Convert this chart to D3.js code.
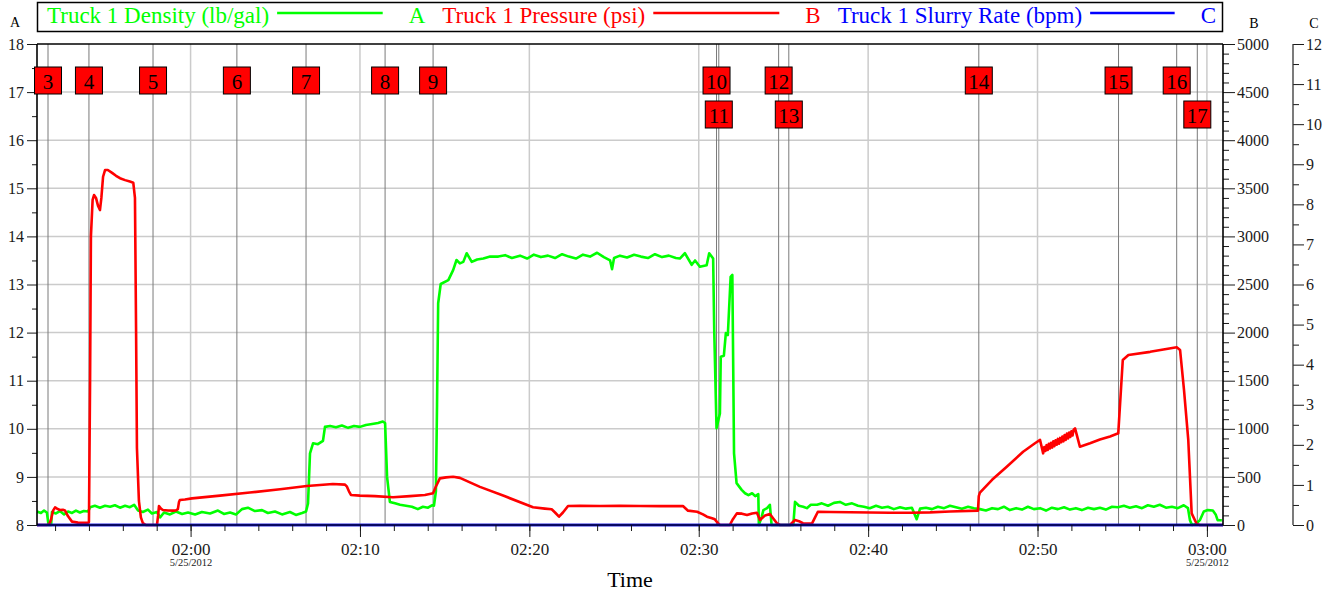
<!DOCTYPE html>
<html>
<head>
<meta charset="utf-8">
<script src="https://cdn.jsdelivr.net/npm/d3@7"></script>
<style>
body { margin: 0; background: #fff; }
svg text { font-family: "Liberation Serif", "Times New Roman", serif; }
</style>
</head>
<body>
<svg id="chart" width="1336" height="594"></svg>
<script>
// (DATA) job date and visible time window
var jobDate = "2012-05-25";
var timeRange = ["01:50:56", "03:00:57"];

// series names, axis letters and colours
var seriesNames = ["Truck 1 Density (lb/gal)", "Truck 1 Pressure (psi)", "Truck 1 Slurry Rate (bpm)"];
var seriesAxes = ["A", "B", "C"];
var seriesColors = ["#00ff00", "#ff0000", "#0000ff"];

// axis ranges
var densityDomain = [8, 18];
var pressureDomain = [0, 5000];
var slurryDomain = [0, 12];

// density (lb/gal), axis A
var densityTimes = [
    "01:50:56", "01:51:10", "01:51:21", "01:51:31", "01:51:37", "01:51:46", "01:51:49", "01:52:03", "01:52:17", "01:52:32",
    "01:52:46", "01:53:00", "01:53:14", "01:53:28", "01:53:42", "01:53:57", "01:54:04", "01:54:21", "01:54:39", "01:54:57",
    "01:55:15", "01:55:32", "01:55:50", "01:56:08", "01:56:25", "01:56:40", "01:56:54", "01:57:11", "01:57:29", "01:57:43",
    "01:58:01", "01:58:12", "01:58:26", "01:58:47", "01:59:08", "01:59:30", "01:59:51", "02:00:16", "02:00:40", "02:01:09",
    "02:01:37", "02:01:58", "02:02:20", "02:02:41", "02:03:02", "02:03:23", "02:03:48", "02:04:13", "02:04:34", "02:04:59",
    "02:05:24", "02:05:52", "02:06:13", "02:06:35", "02:06:49", "02:06:56", "02:07:03", "02:07:14", "02:07:31", "02:07:49",
    "02:07:56", "02:08:14", "02:08:35", "02:08:56", "02:09:18", "02:09:39", "02:10:00", "02:10:21", "02:10:43", "02:11:04",
    "02:11:21", "02:11:29", "02:11:36", "02:11:46", "02:12:04", "02:12:22", "02:12:43", "02:13:04", "02:13:25", "02:13:43",
    "02:14:01", "02:14:15", "02:14:22", "02:14:29", "02:14:33", "02:14:37", "02:14:46", "02:15:13", "02:15:30", "02:15:42",
    "02:15:54", "02:16:06", "02:16:18", "02:16:36", "02:16:55", "02:17:17", "02:17:41", "02:18:10", "02:18:34", "02:18:58",
    "02:19:27", "02:19:52", "02:20:16", "02:20:41", "02:21:06", "02:21:31", "02:21:56", "02:22:20", "02:22:45", "02:23:10",
    "02:23:35", "02:24:00", "02:24:24", "02:24:46", "02:24:53", "02:25:00", "02:25:21", "02:25:46", "02:26:11", "02:26:35",
    "02:27:00", "02:27:25", "02:27:50", "02:28:14", "02:28:39", "02:28:53", "02:29:11", "02:29:35", "02:29:47", "02:30:04",
    "02:30:28", "02:30:37", "02:30:51", "02:30:55", "02:31:03", "02:31:15", "02:31:18", "02:31:29", "02:31:36", "02:31:43",
    "02:31:53", "02:31:59", "02:32:05", "02:32:14", "02:32:32", "02:32:44", "02:32:56", "02:33:09", "02:33:20", "02:33:31",
    "02:33:33", "02:33:43", "02:33:49", "02:34:02", "02:34:12", "02:34:18", "02:35:35", "02:35:41", "02:35:55", "02:36:10",
    "02:36:23", "02:36:37", "02:36:59", "02:37:16", "02:37:38", "02:37:59", "02:38:20", "02:38:41", "02:39:03", "02:39:24",
    "02:39:45", "02:40:06", "02:40:28", "02:40:49", "02:41:10", "02:41:31", "02:41:53", "02:42:14", "02:42:35", "02:42:52",
    "02:43:04", "02:43:25", "02:43:46", "02:44:07", "02:44:29", "02:44:50", "02:45:11", "02:45:32", "02:45:54", "02:46:15",
    "02:46:36", "02:46:57", "02:47:19", "02:47:40", "02:48:01", "02:48:22", "02:48:44", "02:49:05", "02:49:26", "02:49:47",
    "02:50:09", "02:50:30", "02:50:51", "02:51:12", "02:51:34", "02:51:55", "02:52:16", "02:52:37", "02:52:59", "02:53:20",
    "02:53:41", "02:54:02", "02:54:24", "02:54:45", "02:55:06", "02:55:27", "02:55:49", "02:56:10", "02:56:31", "02:56:52",
    "02:57:13", "02:57:35", "02:57:56", "02:58:17", "02:58:38", "02:58:53", "02:59:00", "02:59:07", "02:59:21", "02:59:35",
    "02:59:49", "03:00:03", "03:00:21", "03:00:31", "03:00:38", "03:00:53"
];
var densityValues = [
    8.28, 8.25, 8.30, 8.26, 8.00, 8.00, 8.27, 8.24, 8.29, 8.22,
    8.28, 8.25, 8.30, 8.26, 8.29, 8.28, 8.37, 8.40, 8.36, 8.40,
    8.38, 8.41, 8.36, 8.40, 8.37, 8.42, 8.30, 8.27, 8.32, 8.24,
    8.27, 8.16, 8.26, 8.22, 8.28, 8.23, 8.26, 8.22, 8.27, 8.24,
    8.30, 8.23, 8.26, 8.22, 8.33, 8.36, 8.29, 8.31, 8.25, 8.28,
    8.22, 8.27, 8.21, 8.25, 8.28, 8.45, 9.49, 9.70, 9.68, 9.75,
    10.04, 10.06, 10.03, 10.07, 10.02, 10.06, 10.04, 10.08, 10.10, 10.12,
    10.15, 10.12, 9.00, 8.48, 8.45, 8.42, 8.40, 8.38, 8.33, 8.38,
    8.36, 8.41, 8.40, 8.70, 10.50, 12.61, 13.01, 13.09, 13.30, 13.51,
    13.44, 13.47, 13.65, 13.47, 13.52, 13.54, 13.58, 13.58, 13.61, 13.55,
    13.60, 13.54, 13.62, 13.57, 13.60, 13.55, 13.63, 13.58, 13.54, 13.62,
    13.58, 13.66, 13.57, 13.50, 13.32, 13.55, 13.60, 13.56, 13.62, 13.58,
    13.55, 13.63, 13.57, 13.60, 13.55, 13.54, 13.65, 13.41, 13.50, 13.37,
    13.40, 13.65, 13.54, 12.00, 10.01, 10.32, 11.50, 11.52, 11.99, 11.95,
    13.16, 13.20, 9.49, 8.87, 8.73, 8.66, 8.62, 8.66, 8.60, 8.64,
    8.00, 8.17, 8.31, 8.35, 8.42, 8.00, 8.00, 8.48, 8.40, 8.38,
    8.35, 8.42, 8.42, 8.45, 8.40, 8.46, 8.48, 8.42, 8.45, 8.40,
    8.38, 8.35, 8.40, 8.36, 8.38, 8.33, 8.37, 8.34, 8.36, 8.12,
    8.34, 8.36, 8.33, 8.38, 8.35, 8.40, 8.37, 8.34, 8.38, 8.35,
    8.33, 8.30, 8.35, 8.33, 8.38, 8.31, 8.35, 8.32, 8.38, 8.33,
    8.35, 8.30, 8.36, 8.33, 8.37, 8.32, 8.35, 8.31, 8.36, 8.33,
    8.36, 8.32, 8.38, 8.37, 8.40, 8.36, 8.39, 8.35, 8.41, 8.38,
    8.42, 8.36, 8.38, 8.35, 8.41, 8.35, 8.10, 8.00, 8.02, 8.10,
    8.28, 8.31, 8.30, 8.22, 8.10, 8.10
];

// pressure (psi), axis B
var pressureTimes = [
    "01:50:56", "01:51:31", "01:51:39", "01:51:46", "01:51:53", "01:52:00", "01:52:07", "01:52:17", "01:52:28", "01:52:35",
    "01:52:46", "01:53:00", "01:53:21", "01:53:57", "01:54:00", "01:54:04", "01:54:07", "01:54:13", "01:54:18", "01:54:25",
    "01:54:32", "01:54:39", "01:54:44", "01:54:50", "01:54:57", "01:55:07", "01:55:22", "01:55:36", "01:55:50", "01:56:08",
    "01:56:25", "01:56:37", "01:56:43", "01:56:47", "01:56:50", "01:56:57", "01:57:04", "01:57:11", "01:57:22", "01:58:01",
    "01:58:05", "01:58:08", "01:58:15", "01:58:22", "01:58:40", "01:58:58", "01:59:08", "01:59:15", "01:59:19", "01:59:22",
    "01:59:40", "02:00:05", "02:01:44", "02:03:30", "02:05:17", "02:06:52", "02:07:38", "02:08:24", "02:09:07", "02:09:14",
    "02:09:21", "02:09:28", "02:10:00", "02:10:53", "02:11:57", "02:12:57", "02:13:50", "02:14:19", "02:14:29", "02:14:43",
    "02:15:05", "02:15:30", "02:15:54", "02:17:05", "02:18:34", "02:20:13", "02:20:55", "02:21:19", "02:21:31", "02:21:45",
    "02:21:59", "02:22:17", "02:22:59", "02:24:10", "02:25:21", "02:26:32", "02:27:43", "02:29:04", "02:29:22", "02:29:54",
    "02:30:15", "02:30:29", "02:30:47", "02:30:57", "02:31:08", "02:31:15", "02:31:50", "02:32:01", "02:32:15", "02:32:33",
    "02:32:51", "02:33:09", "02:33:26", "02:33:37", "02:33:55", "02:34:12", "02:34:26", "02:34:37", "02:34:48", "02:35:23",
    "02:35:41", "02:35:55", "02:36:09", "02:36:41", "02:36:52", "02:37:02", "02:37:45", "02:38:56", "02:40:06", "02:41:17",
    "02:42:28", "02:43:39", "02:44:50", "02:46:29", "02:46:32", "02:46:36", "02:47:19", "02:48:11", "02:49:09", "02:49:51",
    "02:50:09", "02:50:20", "02:50:24", "02:50:28", "02:50:32", "02:50:36", "02:50:40", "02:50:44", "02:50:48", "02:50:52",
    "02:50:56", "02:51:00", "02:51:04", "02:51:08", "02:51:12", "02:51:16", "02:51:20", "02:51:24", "02:51:28", "02:51:32",
    "02:51:36", "02:51:40", "02:51:44", "02:51:48", "02:51:52", "02:51:56", "02:52:00", "02:52:04", "02:52:08", "02:52:13",
    "02:52:30", "02:53:06", "02:53:41", "02:54:17", "02:54:46", "02:55:02", "02:55:22", "02:56:39", "02:58:13", "02:58:25",
    "02:58:39", "02:58:54", "02:59:06", "02:59:24", "02:59:35", "03:00:57"
];
var pressureValues = [
    0, 0, 5, 60, 150, 184, 170, 156, 158, 152,
    90, 35, 25, 24, 30, 1500, 3000, 3380, 3430, 3400,
    3320, 3274, 3400, 3620, 3690, 3690, 3660, 3630, 3605, 3585,
    3570, 3558, 3400, 2000, 800, 250, 80, 20, 0, 0,
    100, 197, 170, 156, 150, 149, 150, 165, 240, 260,
    265, 277, 305, 337, 372, 405, 415, 426, 420, 398,
    350, 312, 305, 300, 288, 300, 312, 329, 400, 485,
    495, 502, 490, 396, 298, 184, 170, 163, 130, 86,
    130, 197, 200, 197, 199, 198, 196, 197, 149, 138,
    110, 86, 70, 59, 20, 0, 0, 60, 121, 118,
    104, 120, 128, 52, 100, 114, 60, 18, 0, 0,
    52, 40, 18, 15, 80, 138, 135, 133, 130, 128,
    128, 131, 140, 149, 300, 336, 470, 606, 762, 850,
    884, 745, 810, 770, 830, 780, 845, 795, 855, 805,
    870, 820, 880, 835, 895, 845, 905, 860, 920, 870,
    935, 885, 950, 900, 960, 915, 975, 930, 990, 1005,
    814, 850, 888, 920, 953, 1715, 1767, 1800, 1847, 1819,
    1400, 884, 121, 10, 0, 0
];

// slurry rate (bpm), axis C - no rate recorded in this window
var slurryTimes = ["01:50:56", "02:30:00", "03:00:57"];
var slurryValues = [0, 0, 0];

// event markers
var eventLabels = [3, 4, 5, 6, 7, 8, 9, 10, 11, 12, 13, 14, 15, 16, 17];
var eventTimes = [
    "01:51:35", "01:54:00", "01:57:47", "02:02:44", "02:06:49", "02:11:29", "02:14:19", "02:31:03",
    "02:31:11", "02:34:43", "02:35:19", "02:46:32", "02:54:47", "02:58:13", "02:59:26"
];

function init() {

    // (VARIABLES) plot box
    var plotLeft = 37;
    var plotRight = 1223;
    var plotTop = 44;
    var plotBottom = 525;
    var axisCX = 1293;
    var axisColor = "#1a1a1a";

    var parseTime = d3.timeParse("%Y-%m-%d %H:%M:%S");
    function toDate(t) {
        return parseTime(jobDate + " " + t);
    }

    // (SCALES)
    var xScale = d3.scaleTime()
        .domain(timeRange.map(toDate))
        .range([plotLeft, plotRight]);
    var yA = d3.scaleLinear().domain(densityDomain).range([plotBottom, plotTop]);
    var yB = d3.scaleLinear().domain(pressureDomain).range([plotBottom, plotTop]);
    var yC = d3.scaleLinear().domain(slurryDomain).range([plotBottom, plotTop]);

    var svg = d3.select("#chart");

    svg.append("defs").append("clipPath")
        .attr("id", "plot-clip")
        .append("rect")
        .attr("x", plotLeft)
        .attr("y", plotTop)
        .attr("width", plotRight - plotLeft)
        .attr("height", plotBottom - plotTop + 3);

    // (GRID) horizontal lines on the A ticks, vertical lines every 10 minutes
    var grid = svg.append("g").attr("class", "grid");
    grid.selectAll("line.h")
        .data(d3.range(densityDomain[0] + 1, densityDomain[1]))
        .enter()
        .append("line")
        .attr("x1", plotLeft)
        .attr("x2", plotRight)
        .attr("y1", function(d) { return yA(d); })
        .attr("y2", function(d) { return yA(d); })
        .attr("stroke", "#cbcbcb")
        .attr("stroke-width", 1.5);
    grid.selectAll("line.v")
        .data(xScale.ticks(d3.timeMinute.every(10)))
        .enter()
        .append("line")
        .attr("x1", function(d) { return xScale(d); })
        .attr("x2", function(d) { return xScale(d); })
        .attr("y1", plotTop)
        .attr("y2", plotBottom)
        .attr("stroke", "#cbcbcb")
        .attr("stroke-width", 1.5);

    // (EVENTS) vertical lines
    var events = eventLabels.map(function(label, i) {
        return { label: label, x: xScale(toDate(eventTimes[i])) };
    });
    svg.append("g")
        .selectAll("line")
        .data(events)
        .enter()
        .append("line")
        .attr("x1", function(d) { return d.x; })
        .attr("x2", function(d) { return d.x; })
        .attr("y1", plotTop)
        .attr("y2", plotBottom)
        .attr("stroke", "#7a7a7a")
        .attr("stroke-width", 1);

    // (SERIES) green density, red pressure, blue slurry rate
    function zip(times, values) {
        return times.map(function(t, i) { return { t: toDate(t), v: values[i] }; });
    }
    var series = [
        { data: zip(densityTimes, densityValues), y: yA },
        { data: zip(pressureTimes, pressureValues), y: yB },
        { data: zip(slurryTimes, slurryValues), y: yC }
    ];
    var plot = svg.append("g").attr("clip-path", "url(#plot-clip)");
    series.forEach(function(s, i) {
        var line = d3.line()
            .x(function(d) { return xScale(d.t); })
            .y(function(d) { return s.y(d.v); });
        plot.append("path")
            .datum(s.data)
            .attr("d", line)
            .attr("fill", "none")
            .attr("stroke", seriesColors[i])
            .attr("stroke-width", 2.6)
            .attr("stroke-linejoin", "round");
    });

    // (AXES)
    function styleAxis(g, size) {
        g.select("path.domain").remove();
        g.selectAll("line").attr("stroke", axisColor);
        g.selectAll("text")
            .attr("fill", axisColor)
            .style("font-size", size + "px")
            .style("font-family", "'Liberation Serif', 'Times New Roman', serif");
    }

    // (A) left axis
    svg.append("g")
        .attr("transform", "translate(" + plotLeft + ",0)")
        .call(d3.axisLeft(yA).tickValues(d3.range(8.5, 18, 1)).tickSize(5).tickFormat(""))
        .call(styleAxis, 16);
    svg.append("g")
        .attr("transform", "translate(" + plotLeft + ",0)")
        .call(d3.axisLeft(yA).tickValues(d3.range(8, 18.5, 1)).tickSize(10).tickPadding(3))
        .call(styleAxis, 16);

    // (B) right axis
    svg.append("g")
        .attr("transform", "translate(" + plotRight + ",0)")
        .call(d3.axisRight(yB).tickValues(d3.range(0, 5001, 100).filter(function(d) { return d % 500 !== 0; }))
            .tickSize(6).tickFormat(""))
        .call(styleAxis, 16);
    svg.append("g")
        .attr("transform", "translate(" + plotRight + ",0)")
        .call(d3.axisRight(yB).tickValues(d3.range(0, 5001, 500)).tickSize(12).tickPadding(2)
            .tickFormat(d3.format("d")))
        .call(styleAxis, 16);

    // (C) far right axis
    svg.append("g")
        .attr("transform", "translate(" + axisCX + ",0)")
        .call(d3.axisRight(yC).tickValues(d3.range(0.5, 12, 1)).tickSize(6).tickFormat(""))
        .call(styleAxis, 16);
    svg.append("g")
        .attr("transform", "translate(" + axisCX + ",0)")
        .call(d3.axisRight(yC).tickValues(d3.range(0, 12.5, 1)).tickSize(11).tickPadding(2))
        .call(styleAxis, 16);

    // (X) time axis
    svg.append("g")
        .attr("transform", "translate(0," + plotBottom + ")")
        .call(d3.axisBottom(xScale).ticks(d3.timeMinute.every(2)).tickSize(6).tickFormat(""))
        .call(styleAxis, 16);
    var xAxis = svg.append("g")
        .attr("transform", "translate(0," + plotBottom + ")")
        .call(d3.axisBottom(xScale).ticks(d3.timeMinute.every(10))
            .tickFormat(d3.timeFormat("%H:%M")).tickSize(12).tickPadding(6))
        .call(styleAxis, 17);
    // date under the full hours
    xAxis.selectAll(".tick")
        .filter(function(d) { return d.getMinutes() === 0; })
        .append("text")
        .attr("y", 41)
        .attr("text-anchor", "middle")
        .attr("fill", axisColor)
        .style("font-size", "10.5px")
        .text(function(d) { return d3.timeFormat("%-m/%-d/%Y")(d); });

    // axis lines and top border
    var frame = svg.append("g").attr("stroke", "#000").attr("stroke-width", 1.6);
    frame.append("line").attr("x1", plotLeft).attr("x2", plotLeft).attr("y1", plotTop).attr("y2", plotBottom);
    frame.append("line").attr("x1", plotRight).attr("x2", plotRight).attr("y1", plotTop).attr("y2", plotBottom);
    frame.append("line").attr("x1", plotLeft).attr("x2", plotRight).attr("y1", plotTop).attr("y2", plotTop);
    frame.append("line").attr("x1", plotLeft).attr("x2", plotRight).attr("y1", plotBottom).attr("y2", plotBottom)
        .attr("stroke-width", 1);
    frame.append("line").attr("x1", axisCX).attr("x2", axisCX).attr("y1", plotTop).attr("y2", plotBottom)
        .attr("stroke", "#333").attr("stroke-width", 1.3);

    // redraw the zero slurry line on top of the x axis
    plot.append("path")
        .datum(series[2].data)
        .attr("d", d3.line().x(function(d) { return xScale(d.t); }).y(function(d) { return yC(d.v); }))
        .attr("fill", "none")
        .attr("stroke", "#1010c8")
        .attr("stroke-width", 2.6);

    // axis letters
    var letters = [[plotLeft - 22, 27], [plotRight + 31, 28], [axisCX + 21, 28]];
    seriesAxes.forEach(function(a, i) {
        svg.append("text")
            .attr("x", letters[i][0])
            .attr("y", letters[i][1])
            .attr("text-anchor", "middle")
            .style("font-size", "14px")
            .attr("fill", "#000")
            .text(a);
    });

    // x title
    svg.append("text")
        .attr("x", (plotLeft + plotRight) / 2)
        .attr("y", 587)
        .attr("text-anchor", "middle")
        .style("font-size", "22px")
        .attr("fill", "#000")
        .text("Time");

    // (LEGEND) boxed row along the top, one equal slot for each series
    var legend = svg.append("g");
    legend.append("rect")
        .attr("x", plotLeft + 0.5)
        .attr("y", 2.5)
        .attr("width", plotRight - plotLeft - 1)
        .attr("height", 29)
        .attr("fill", "#fff")
        .attr("stroke", "#000")
        .attr("stroke-width", 1.5);
    var slot = (plotRight - plotLeft) / seriesNames.length;
    seriesNames.forEach(function(name, i) {
        var x0 = plotLeft + i * slot;
        var label = legend.append("text")
            .attr("x", x0 + 10)
            .attr("y", 23)
            .attr("fill", seriesColors[i])
            .style("font-size", "23px")
            .text(name);
        var letter = legend.append("text")
            .attr("x", x0 + slot - 7)
            .attr("y", 23)
            .attr("text-anchor", "end")
            .attr("fill", seriesColors[i])
            .style("font-size", "23px")
            .text(seriesAxes[i]);
        var tw = label.node().getComputedTextLength();
        var lw = letter.node().getComputedTextLength();
        legend.append("line")
            .attr("x1", x0 + 10 + tw + 8)
            .attr("x2", x0 + slot - 7 - lw - 26)
            .attr("y1", 13)
            .attr("y2", 13)
            .attr("stroke", seriesColors[i])
            .attr("stroke-width", 2.6);
    });

    // (EVENT BOXES) drop a box to the second row when it would overlap the one before
    var boxSize = 27;
    var lastRight = -Infinity;
    events.forEach(function(e) {
        if (e.x - boxSize / 2 < lastRight) {
            e.row = 1;
        } else {
            e.row = 0;
            lastRight = e.x + boxSize / 2;
        }
    });
    var boxes = svg.append("g")
        .selectAll("g")
        .data(events)
        .enter()
        .append("g")
        .attr("transform", function(d) {
            return "translate(" + (d.x - boxSize / 2) + "," + (67 + d.row * 34) + ")";
        });
    boxes.append("rect")
        .attr("width", boxSize)
        .attr("height", boxSize)
        .attr("fill", "#ff0000")
        .attr("stroke", "#000")
        .attr("stroke-width", 1);
    boxes.append("text")
        .attr("x", boxSize / 2)
        .attr("y", 21.5)
        .attr("text-anchor", "middle")
        .style("font-size", "21px")
        .attr("fill", "#000")
        .text(function(d) { return d.label; });
}

window.onload = init;
</script>
</body>
</html>
